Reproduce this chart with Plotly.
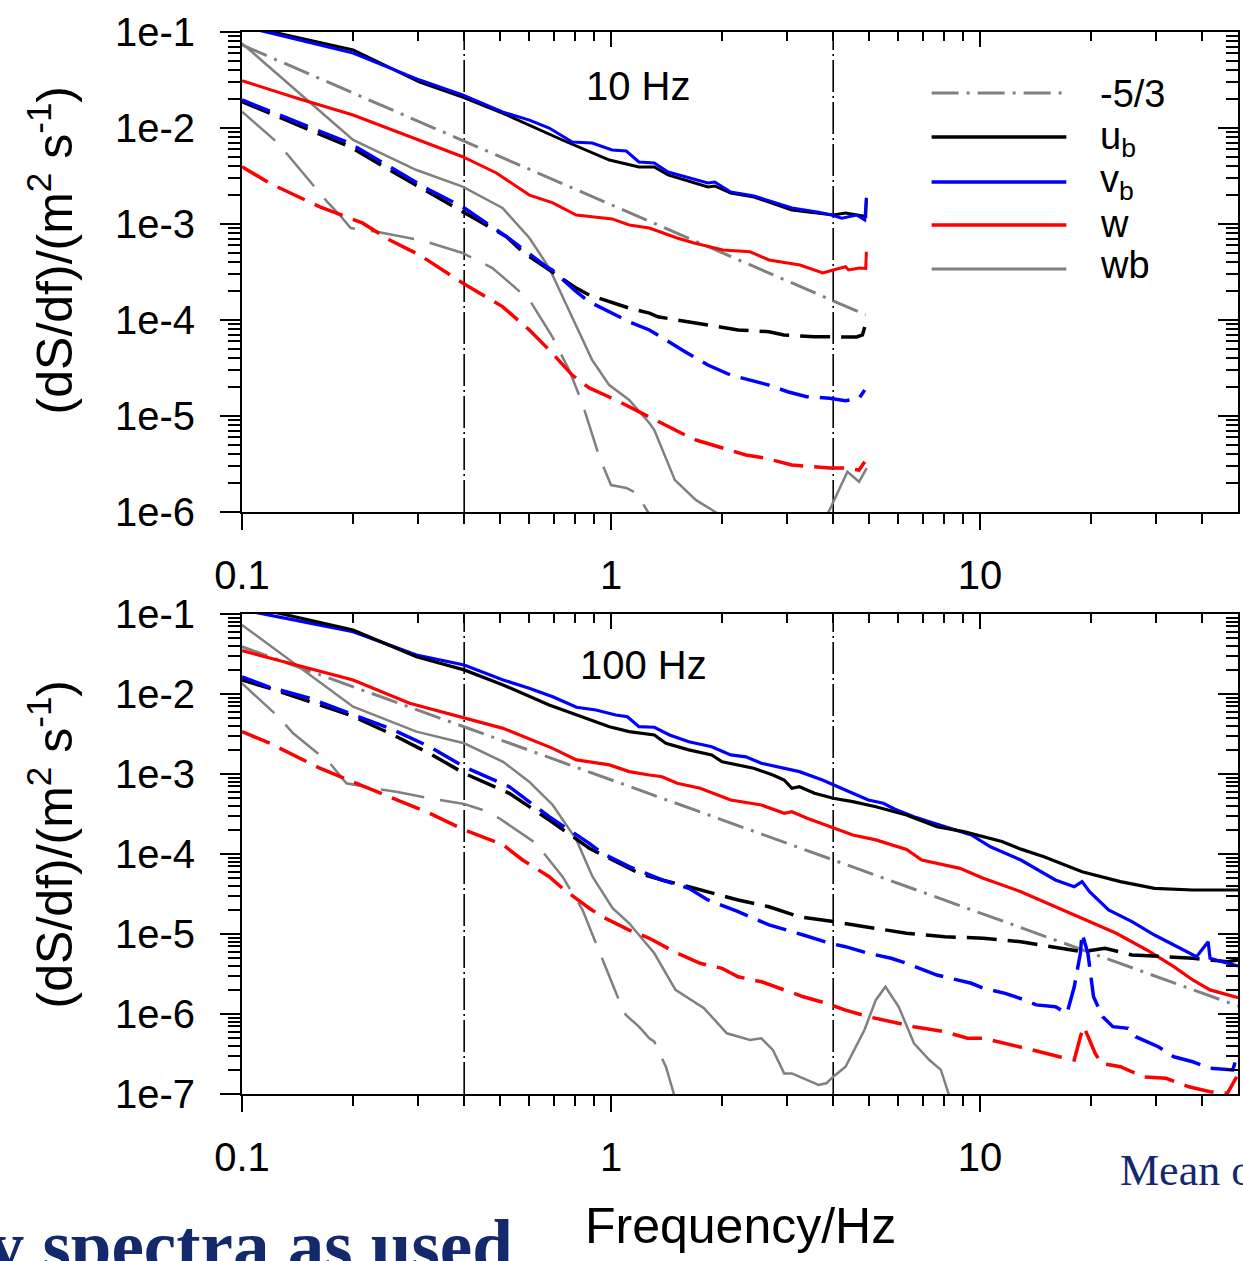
import math
import plotly.graph_objects as go

FONT = "Liberation Sans, Arial, sans-serif"
SERIF = "Liberation Serif, Times New Roman, serif"
BLACK, BLUE, RED, GRAY = "#000000", "#0000ff", "#ff0000", "#808080"
NAVY = "#14296b"

# ---------------- tick labels ----------------
x_major = [0.1, 1, 10]
x_major_text = ["0.1", "1", "10"]
x_minor = [0.2, 0.3, 0.4, 0.5, 0.6, 0.7, 0.8, 0.9, 2, 3, 4, 5, 6, 7, 8, 9, 20, 30, 40]
y_major_top = [1e-1, 1e-2, 1e-3, 1e-4, 1e-5, 1e-6]
y_major_top_text = ["1e-1", "1e-2", "1e-3", "1e-4", "1e-5", "1e-6"]
y_major_bot = [1e-1, 1e-2, 1e-3, 1e-4, 1e-5, 1e-6, 1e-7]
y_major_bot_text = ["1e-1", "1e-2", "1e-3", "1e-4", "1e-5", "1e-6", "1e-7"]
y_minor_top = [m * 10.0 ** e for e in range(-6, -1) for m in range(2, 10)]
y_minor_bot = [m * 10.0 ** e for e in range(-7, -1) for m in range(2, 10)]

f_cut = [0.4, 4.0]              # vertical dash-dot markers (Hz)
legend_names = ["-5/3", "u<sub>b</sub>", "v<sub>b</sub>", "w", "wb"]

# ---------------- top panel: 10 Hz ----------------
f_ref_10 = [0.1, 4.9]
s_ref_10 = [0.0733, 1.13e-4]

f_ub_10 = [0.1, 0.2, 0.303, 0.396, 0.508, 0.738, 0.99, 1.19, 1.31, 1.427, 1.83, 1.91, 2.11, 2.44,
           3.09, 3.65, 4.0, 4.32, 4.75, 4.90, 4.92]
s_ub_10 = [0.118, 0.065, 0.0301, 0.0210, 0.0143, 0.0075, 0.00464, 0.00393, 0.00393, 0.00324, 0.00243,
           0.00249, 0.00210, 0.00191, 0.00140, 0.00130, 0.00124, 0.00130, 0.00124, 0.00120, 0.00187]

f_vb_10 = [0.1, 0.2, 0.303, 0.396, 0.508, 0.601, 0.68, 0.785, 0.889, 1.007, 1.10, 1.19, 1.31, 1.427,
           1.83, 1.91, 2.11, 2.44, 3.09, 3.65, 3.96, 4.22, 4.63, 4.87, 4.92]
s_vb_10 = [0.115, 0.0604, 0.0316, 0.0221, 0.0147, 0.0121, 0.0100, 0.00715, 0.00698, 0.00590, 0.00576,
           0.00443, 0.00432, 0.00348, 0.00267, 0.00274, 0.00216, 0.00196, 0.00147, 0.00133, 0.00124,
           0.00115, 0.00124, 0.00110, 0.00187]

f_w_10 = [0.1, 0.141, 0.2, 0.285, 0.396, 0.489, 0.601, 0.693, 0.805, 1.007, 1.12, 1.27, 1.51, 1.67,
          2.01, 2.38, 2.68, 3.25, 3.75, 4.0, 4.32, 4.4, 4.72, 4.90, 4.92]
s_w_10 = [0.0311, 0.0204, 0.01365, 0.00812, 0.00502, 0.00340, 0.00200, 0.00167, 0.00124, 0.00113,
          0.000977, 0.000908, 0.000715, 0.000638, 0.000536, 0.000514, 0.000422, 0.000374, 0.000309,
          0.000332, 0.000359, 0.000332, 0.000348, 0.000345, 0.000514]

f_wb_10 = [0.1, 0.2, 0.297, 0.396, 0.508, 0.601, 0.68, 0.785, 0.889, 0.989, 1.12, 1.27, 1.31, 1.49,
           1.70, 1.88, 2.5, 3.5, 3.91, 4.37, 4.7, 4.93]
s_wb_10 = [0.0762, 0.0075, 0.00365, 0.00245, 0.00147, 0.000715, 0.000348, 0.000108, 3.83e-5, 2.10e-5,
           1.47e-5, 8.46e-6, 7.15e-6, 2.15e-6, 1.33e-6, 1.05e-6, 5e-7, 5e-7, 1.05e-6, 2.63e-6, 2.07e-6,
           2.87e-6]

f_wbd_10 = [0.1, 0.125, 0.17, 0.184, 0.197, 0.2317, 0.303, 0.3223, 0.396, 0.477, 0.601, 0.693, 0.770,
            0.836, 0.929, 1.0, 1.10, 1.17, 1.25, 1.35]
s_wbd_10 = [0.0148, 0.0070, 0.00171, 0.00124, 0.000908, 0.000831, 0.000681, 0.000638, 0.000499,
            0.000348, 0.000162, 6.70e-5, 3.01e-5, 1.36e-5, 3.77e-6, 1.91e-6, 1.78e-6, 1.58e-6, 1.05e-6,
            6.5e-7]

f_ubd_10 = [0.1, 0.1527, 0.196, 0.2513, 0.3223, 0.396, 0.521, 0.575, 0.668, 0.693, 0.805, 0.873, 1.12,
            1.27, 1.34, 1.83, 2.21, 2.68, 2.94, 3.56, 3.91, 4.32, 4.63, 4.80, 4.87]
s_ubd_10 = [0.0188, 0.00953, 0.00638, 0.00365, 0.00210, 0.00134, 0.000738, 0.000514, 0.000348,
            0.000318, 0.000215, 0.000182, 0.000133, 0.000118, 0.000108, 8.87e-5, 7.87e-5, 7.55e-5,
            6.98e-5, 6.70e-5, 6.65e-5, 6.70e-5, 6.65e-5, 6.98e-5, 8.45e-5]

f_vbd_10 = [0.1, 0.1527, 0.196, 0.2513, 0.3223, 0.396, 0.521, 0.668, 0.693, 0.805, 0.873, 1.12, 1.27,
            1.587, 1.83, 2.11, 2.38, 2.68, 3.01, 3.39, 3.91, 4.32, 4.70, 4.87]
s_vbd_10 = [0.0196, 0.01033, 0.00693, 0.00395, 0.00226, 0.00151, 0.000738, 0.000359, 0.000332,
            0.000197, 0.000155, 9.6e-5, 7.87e-5, 4.68e-5, 3.40e-5, 2.67e-5, 2.37e-5, 2.10e-5, 1.79e-5,
            1.59e-5, 1.53e-5, 1.44e-5, 1.53e-5, 1.87e-5]

f_wd_10 = [0.1, 0.119, 0.1625, 0.2125, 0.2513, 0.303, 0.396, 0.508, 0.601, 0.68, 0.785, 0.873, 1.03,
           1.21, 1.31, 1.548, 1.70, 1.88, 2.32, 2.61, 3.09, 3.91, 4.32, 4.70, 4.87]
s_wd_10 = [0.00395, 0.00265, 0.00151, 0.00102, 0.000681, 0.000475, 0.000243, 0.000138, 7.87e-5, 4.87e-5,
           2.67e-5, 1.96e-5, 1.47e-5, 1.07e-5, 9.08e-6, 6.65e-6, 5.62e-6, 4.99e-6, 3.93e-6, 3.65e-6,
           3.09e-6, 2.87e-6, 2.87e-6, 2.74e-6, 3.34e-6]

# ---------------- bottom panel: 100 Hz ----------------
f_ref_100 = [0.1, 50]
s_ref_100 = [0.039, 1.26e-6]

f_ub_100 = [0.1, 0.2, 0.297, 0.4, 0.51, 0.68, 0.99, 1.12, 1.31, 1.408, 1.625, 1.874, 2.0, 2.435, 2.745,
            2.946, 3.09, 3.24, 3.56, 4.0, 4.52, 5.22, 6.32, 7.64, 9.03, 11.46, 12.9, 14.9, 18.9, 24.0,
            29.7, 37.7, 50]
s_ub_100 = [0.130, 0.0631, 0.0292, 0.0200, 0.01296, 0.00729, 0.00390, 0.00338, 0.00307, 0.00242,
            0.00200, 0.00173, 0.00142, 0.00118, 0.000972, 0.000841, 0.000663, 0.000694, 0.000574,
            0.000497, 0.000451, 0.000390, 0.000307, 0.000219, 0.000190, 0.000143, 0.000115, 9.25e-5,
            6.01e-5, 4.51e-5, 3.72e-5, 3.55e-5, 3.55e-5]

f_vb_100 = [0.1, 0.2, 0.297, 0.4, 0.51, 0.6, 0.695, 0.806, 0.910, 1.03, 1.108, 1.19, 1.31, 1.441, 1.625,
            1.874, 2.11, 2.32, 2.555, 2.81, 3.24, 3.74, 4.0, 4.52, 4.98, 5.47, 5.88, 6.62, 7.29, 8.61,
            9.47, 10.67, 12.9, 16.0, 18.0, 18.9, 19.8, 22.3, 25.8, 29.7, 35.1, 38.6, 41.5, 42.0, 46.8,
            50]
s_vb_100 = [0.113, 0.0601, 0.0307, 0.0230, 0.01496, 0.01178, 0.00925, 0.00682, 0.00631, 0.00546,
            0.00520, 0.00390, 0.00384, 0.00307, 0.00253, 0.00219, 0.00173, 0.00164, 0.00136, 0.00123,
            0.00107, 0.000841, 0.000729, 0.000574, 0.000473, 0.000430, 0.000362, 0.000292, 0.000253,
            0.000200, 0.000173, 0.000123, 8.41e-5, 4.73e-5, 3.90e-5, 4.51e-5, 3.38e-5, 2.0e-5, 1.43e-5,
            9.71e-6, 6.63e-6, 5.2e-6, 8.01e-6, 4.97e-6, 4.30e-6, 4.0e-6]

f_w_100 = [0.1, 0.1406, 0.2, 0.2846, 0.4, 0.51, 0.695, 0.806, 0.99, 1.12, 1.27, 1.375, 1.512, 1.744,
           2.11, 2.555, 2.946, 3.09, 3.40, 3.92, 4.52, 5.22, 6.32, 6.95, 8.82, 10.2, 12.9, 15.6, 18.9,
           23.4, 28.3, 33.5, 37.7, 42.0, 50]
s_w_100 = [0.0348, 0.0230, 0.01496, 0.00766, 0.00497, 0.00372, 0.00209, 0.00150, 0.00130, 0.00107,
           0.000972, 0.000925, 0.000765, 0.000663, 0.000473, 0.000410, 0.000323, 0.000338, 0.000279,
           0.000219, 0.000173, 0.000150, 0.000114, 8.41e-5, 6.62e-5, 4.97e-5, 3.38e-5, 2.30e-5,
           1.57e-5, 1.02e-5, 6.31e-6, 3.90e-6, 2.66e-6, 2.0e-6, 1.6e-6]

f_wb_100 = [0.1, 0.2, 0.297, 0.4, 0.51, 0.6, 0.695, 0.806, 0.891, 1.01, 1.12, 1.27, 1.31, 1.495, 1.786,
            2.06, 2.38, 2.555, 2.745, 2.946, 3.09, 3.32, 3.65, 3.83, 4.0, 4.32, 4.86, 5.22, 5.54, 6.02,
            6.62, 7.29, 7.83, 8.21, 8.8]
s_wb_100 = [0.0729, 0.00693, 0.00338, 0.00242, 0.00142, 0.000801, 0.000410, 0.000150, 5.2e-5, 2.10e-5,
            1.36e-5, 6.94e-6, 5.74e-6, 2.0e-6, 1.18e-6, 5.74e-7, 4.73e-7, 4.97e-7, 3.55e-7, 1.81e-7,
            1.81e-7, 1.57e-7, 1.30e-7, 1.36e-7, 1.64e-7, 2.19e-7, 6.31e-7, 1.50e-6, 2.19e-6, 1.23e-6,
            4.30e-7, 2.66e-7, 2.0e-7, 1.02e-7, 6e-8]

f_wbd_100 = [0.1, 0.1254, 0.1376, 0.173, 0.1919, 0.2265, 0.262, 0.3223, 0.4, 0.449, 0.498, 0.626, 0.68,
             0.739, 0.837, 0.919, 0.96, 1.05, 1.097, 1.19, 1.27, 1.31, 1.408, 1.476, 1.53]
s_wbd_100 = [0.0136, 0.00520, 0.00323, 0.00136, 0.000765, 0.000663, 0.000601, 0.000497, 0.000422,
             0.000355, 0.000279, 0.000136, 8.41e-5, 5.2e-5, 2.0e-5, 6.94e-6, 4.30e-6, 1.50e-6, 9.7e-7,
             6.94e-7, 4.97e-7, 4.51e-7, 2.19e-7, 1.02e-7, 6e-8]

f_ubd_100 = [0.1, 0.119, 0.1527, 0.196, 0.2513, 0.3223, 0.4, 0.53, 0.68, 0.873, 1.19, 1.375, 1.625,
             1.83, 2.21, 2.68, 3.24, 4.0, 4.98, 6.32, 8.02, 10.2, 12.9, 16.4, 18.9, 21.8, 25.8, 31.9,
             37.7, 46.8, 50]
s_ubd_100 = [0.01496, 0.01178, 0.00801, 0.00546, 0.00323, 0.00181, 0.00102, 0.000574, 0.000266,
             0.000118, 5.74e-5, 4.73e-5, 3.90e-5, 3.38e-5, 2.66e-5, 2.19e-5, 1.64e-5, 1.43e-5, 1.23e-5,
             1.02e-5, 9.25e-6, 8.84e-6, 8.01e-6, 6.63e-6, 6.01e-6, 6.63e-6, 5.46e-6, 5.2e-6, 4.97e-6,
             4.51e-6, 4.73e-6]

f_vbd_100 = [0.1, 0.119, 0.1527, 0.196, 0.2513, 0.3223, 0.4, 0.53, 0.68, 0.873, 0.948, 1.12, 1.243,
             1.375, 1.625, 1.83, 2.21, 2.68, 3.32, 3.92, 4.32, 4.98, 5.74, 6.32, 7.64, 9.47, 10.2, 11.7,
             13.2, 14.2, 16.0, 17.2, 18.0, 18.7, 18.9, 19.6, 20.3, 21.5, 22.9, 25.2, 26.4, 30.4, 33.5,
             37.7, 42.0, 48.4, 49.6]
s_vbd_100 = [0.0164, 0.01213, 0.00884, 0.00574, 0.00372, 0.00219, 0.00123, 0.000694, 0.000292,
             0.000136, 0.000102, 6.94e-5, 5.74e-5, 4.73e-5, 3.72e-5, 2.66e-5, 1.90e-5, 1.30e-5, 9.71e-6,
             7.66e-6, 6.94e-6, 5.74e-6, 4.97e-6, 4.30e-6, 3.07e-6, 2.42e-6, 2.10e-6, 1.81e-6, 1.50e-6,
             1.30e-6, 1.23e-6, 1.02e-6, 2.19e-6, 5.74e-6, 1.02e-5, 5.74e-6, 1.64e-6, 9.25e-7, 6.94e-7,
             6.62e-7, 5.2e-7, 3.90e-7, 2.92e-7, 2.53e-7, 2.10e-7, 2.0e-7, 2.92e-7]

f_wd_100 = [0.1, 0.119, 0.1625, 0.2, 0.2513, 0.3223, 0.4, 0.51, 0.576, 0.68, 0.739, 0.873, 0.948, 1.12,
            1.27, 1.375, 1.512, 1.744, 2.0, 2.21, 2.555, 2.946, 3.32, 3.83, 4.32, 4.98, 5.74, 6.62, 8.02,
            9.25, 10.2, 11.7, 13.2, 14.5, 16.4, 18.0, 18.7, 19.1, 19.8, 20.5, 21.3, 24.0, 27.7, 31.9,
            36.8, 42.0, 46.8, 48.4, 49.6]
s_wd_100 = [0.00338, 0.00242, 0.00118, 0.000801, 0.000520, 0.000323, 0.000200, 0.000130, 8.41e-5,
            5.2e-5, 3.72e-5, 2.10e-5, 1.64e-5, 1.12e-5, 8.84e-6, 7.29e-6, 5.74e-6, 4.30e-6, 3.72e-6,
            2.92e-6, 2.53e-6, 2.0e-6, 1.64e-6, 1.36e-6, 1.12e-6, 9.25e-7, 8.01e-7, 6.94e-7, 6.01e-7,
            4.97e-7, 4.97e-7, 4.30e-7, 3.72e-7, 3.38e-7, 2.92e-7, 2.66e-7, 5.2e-7, 6.94e-7, 4.73e-7,
            3.23e-7, 2.42e-7, 2.19e-7, 1.64e-7, 1.57e-7, 1.23e-7, 1.07e-7, 1.02e-7, 1.36e-7, 1.64e-7]

# ---------------- styles ----------------
DASH_COL = "30px,11px"
DASH_GRAY = "44px,16px"
DASH_REF = "27px,8px,3px,8px"
DASH_CUT = "32px,4px,2px,4px"

fig = go.Figure()


def add(x, y, color, width, dash, xa, ya):
    fig.add_trace(go.Scatter(x=x, y=y, mode="lines", xaxis=xa, yaxis=ya,
                             line=dict(color=color, width=width, dash=dash),
                             showlegend=False, hoverinfo="skip"))


panels = [
    ("x", "y", [1e-6, 1e-1],
     [(f_ref_10, s_ref_10, GRAY, 3, DASH_REF),
      (f_wbd_10, s_wbd_10, GRAY, 2.5, DASH_GRAY),
      (f_wb_10, s_wb_10, GRAY, 2.5, "solid"),
      (f_wd_10, s_wd_10, RED, 3.5, DASH_COL),
      (f_w_10, s_w_10, RED, 3, "solid"),
      (f_ubd_10, s_ubd_10, BLACK, 3.5, DASH_COL),
      (f_vbd_10, s_vbd_10, BLUE, 3.5, DASH_COL),
      (f_ub_10, s_ub_10, BLACK, 3, "solid"),
      (f_vb_10, s_vb_10, BLUE, 3, "solid")]),
    ("x2", "y2", [1e-7, 1e-1],
     [(f_ref_100, s_ref_100, GRAY, 3, DASH_REF),
      (f_wbd_100, s_wbd_100, GRAY, 2.5, DASH_GRAY),
      (f_wb_100, s_wb_100, GRAY, 2.5, "solid"),
      (f_wd_100, s_wd_100, RED, 3.5, DASH_COL),
      (f_w_100, s_w_100, RED, 3.2, "solid"),
      (f_ubd_100, s_ubd_100, BLACK, 3.5, DASH_COL),
      (f_vbd_100, s_vbd_100, BLUE, 3.5, DASH_COL),
      (f_vb_100, s_vb_100, BLUE, 3.2, "solid"),
      (f_ub_100, s_ub_100, BLACK, 3.2, "solid")]),
]

for xa, ya, yext, series in panels:
    for fc in f_cut:
        add([fc, fc], yext, BLACK, 1.6, DASH_CUT, xa, ya)
    for x, y, c, w, d in series:
        add(x, y, c, w, d, xa, ya)

# invisible anchors so the mirrored (inside-tick) axes are drawn
for xa, ya in [("x3", "y"), ("x", "y3"), ("x4", "y2"), ("x2", "y4")]:
    fig.add_trace(go.Scatter(x=[1], y=[1e-3], mode="markers", marker=dict(opacity=0),
                             xaxis=xa, yaxis=ya, showlegend=False, hoverinfo="skip"))

XR = [-1, math.log10(50)]
tickfont = dict(family=FONT, size=40, color="black")


def xaxis(domain_anchor, inside=False):
    d = dict(type="log", range=XR, showgrid=False, zeroline=False,
             tickmode="array", tickvals=x_major, tickwidth=2, tickcolor="black",
             minor=dict(tickmode="array", tickvals=x_minor, ticklen=10, tickwidth=2,
                        tickcolor="black", showgrid=False))
    if inside:
        d.update(ticks="inside", ticklen=15, showticklabels=False, showline=False,
                 side="top")
        d["minor"]["ticks"] = "inside"
        d["minor"]["ticklen"] = 9
    else:
        d.update(ticks="outside", ticklen=16, ticktext=x_major_text, tickfont=tickfont,
                 showline=True, linecolor="black", linewidth=2, mirror=True,
                 ticklabelstandoff=11, anchor=domain_anchor)
        d["minor"]["ticks"] = "outside"
    return d


def yaxis(domain, yr, vals, text, inside=False):
    d = dict(type="log", range=yr, showgrid=False, zeroline=False,
             tickmode="array", tickvals=vals, tickwidth=2, tickcolor="black",
             minor=dict(tickmode="array", tickvals=[], ticklen=12, tickwidth=2,
                        tickcolor="black", showgrid=False))
    if inside:
        d.update(ticks="inside", ticklen=20, showticklabels=False, showline=False, side="right")
        d["minor"]["ticks"] = "inside"
    else:
        d.update(ticks="outside", ticklen=20, ticktext=text, tickfont=tickfont, domain=domain,
                 showline=True, linecolor="black", linewidth=2, mirror=True,
                 ticklabelstandoff=17)
        d["minor"]["ticks"] = "outside"
    return d


ya_top = yaxis([0.548, 1.0], [-6, -1], y_major_top, y_major_top_text)
ya_top["minor"]["tickvals"] = y_minor_top
ya_top["anchor"] = "x"
ya_bot = yaxis([0.0, 0.452], [-7, -1], y_major_bot, y_major_bot_text)
ya_bot["minor"]["tickvals"] = y_minor_bot
ya_bot["anchor"] = "x2"
ya3 = yaxis(None, [-6, -1], y_major_top, None, inside=True)
ya3["minor"]["tickvals"] = y_minor_top
ya3.update(overlaying="y", anchor="x")
ya4 = yaxis(None, [-7, -1], y_major_bot, None, inside=True)
ya4["minor"]["tickvals"] = y_minor_bot
ya4.update(overlaying="y2", anchor="x2")

xa3 = xaxis(None, inside=True)
xa3.update(overlaying="x", anchor="y")
xa4 = xaxis(None, inside=True)
xa4.update(overlaying="x2", anchor="y2")

fig.update_layout(
    width=1243, height=1261,
    margin=dict(l=242, r=3, t=32, b=167, pad=0),
    paper_bgcolor="white", plot_bgcolor="white",
    font=dict(family=FONT, color="black"),
    showlegend=False,
    xaxis=xaxis("y"), yaxis=ya_top,
    xaxis2=xaxis("y2"), yaxis2=ya_bot,
    xaxis3=xa3, yaxis3=ya3, xaxis4=xa4, yaxis4=ya4,
)

W_PLOT, H_PLOT, X0, Y_BOT = 998.0, 1062.0, 242.0, 1094.0


def px(xp):
    return (xp - X0) / W_PLOT


def py(yp):
    return (Y_BOT - yp) / H_PLOT


ann = []
title = "(dS/df)/(m<sup>2</sup> s<sup>-1</sup>)"
for yc in (250, 844):
    ann.append(dict(text=title, textangle=-90, x=px(51), y=py(yc), xref="paper", yref="paper",
                    xanchor="center", yanchor="middle", showarrow=False,
                    font=dict(family=FONT, size=50, color="black")))
ann.append(dict(text="Frequency/Hz", x=px(742), y=py(1226), xref="paper", yref="paper",
                xanchor="center", yanchor="middle", showarrow=False,
                font=dict(family=FONT, size=50, color="black")))
ann.append(dict(text="10 Hz", x=px(639), y=py(86), xref="paper", yref="paper",
                xanchor="center", yanchor="middle", showarrow=False,
                font=dict(family=FONT, size=40, color="black")))
ann.append(dict(text="100 Hz", x=px(644), y=py(665), xref="paper", yref="paper",
                xanchor="center", yanchor="middle", showarrow=False,
                font=dict(family=FONT, size=40, color="black")))
# fragments of the slide behind the chart (cut by the picture edges, as in the source)
ann.append(dict(text="Mean o", x=px(1120), y=py(1170), xref="paper", yref="paper",
                xanchor="left", yanchor="middle", showarrow=False,
                font=dict(family=SERIF, size=44, color=NAVY)))
ann.append(dict(text="<b>velocity spectra as used</b>", x=px(516), y=py(1204), xref="paper",
                yref="paper", xanchor="right", yanchor="top", showarrow=False,
                font=dict(family=SERIF, size=73, color=NAVY)))

# legend (drawn manually to reproduce long sample lines)
leg_line_y = [93, 137, 182, 225, 269]
leg_text_y = [94, 139, 182, 224, 265]
leg_styles = [(GRAY, 3, "27px,8px,3px,8px"), (BLACK, 3.5, "solid"), (BLUE, 3.5, "solid"),
              (RED, 3.5, "solid"), (GRAY, 3, "solid")]
for name, ly, ty, (c, w, d) in zip(legend_names, leg_line_y, leg_text_y, leg_styles):
    fig.add_shape(type="line", xref="paper", yref="paper", x0=px(933), x1=px(1068),
                  y0=py(ly), y1=py(ly), line=dict(color=c, width=w, dash=d))
    ann.append(dict(text=name, x=px(1100), y=py(ty), xref="paper", yref="paper",
                    xanchor="left", yanchor="middle", showarrow=False,
                    font=dict(family=FONT, size=38, color="black")))

fig.update_layout(annotations=ann)
fig.write_html("out.html")
